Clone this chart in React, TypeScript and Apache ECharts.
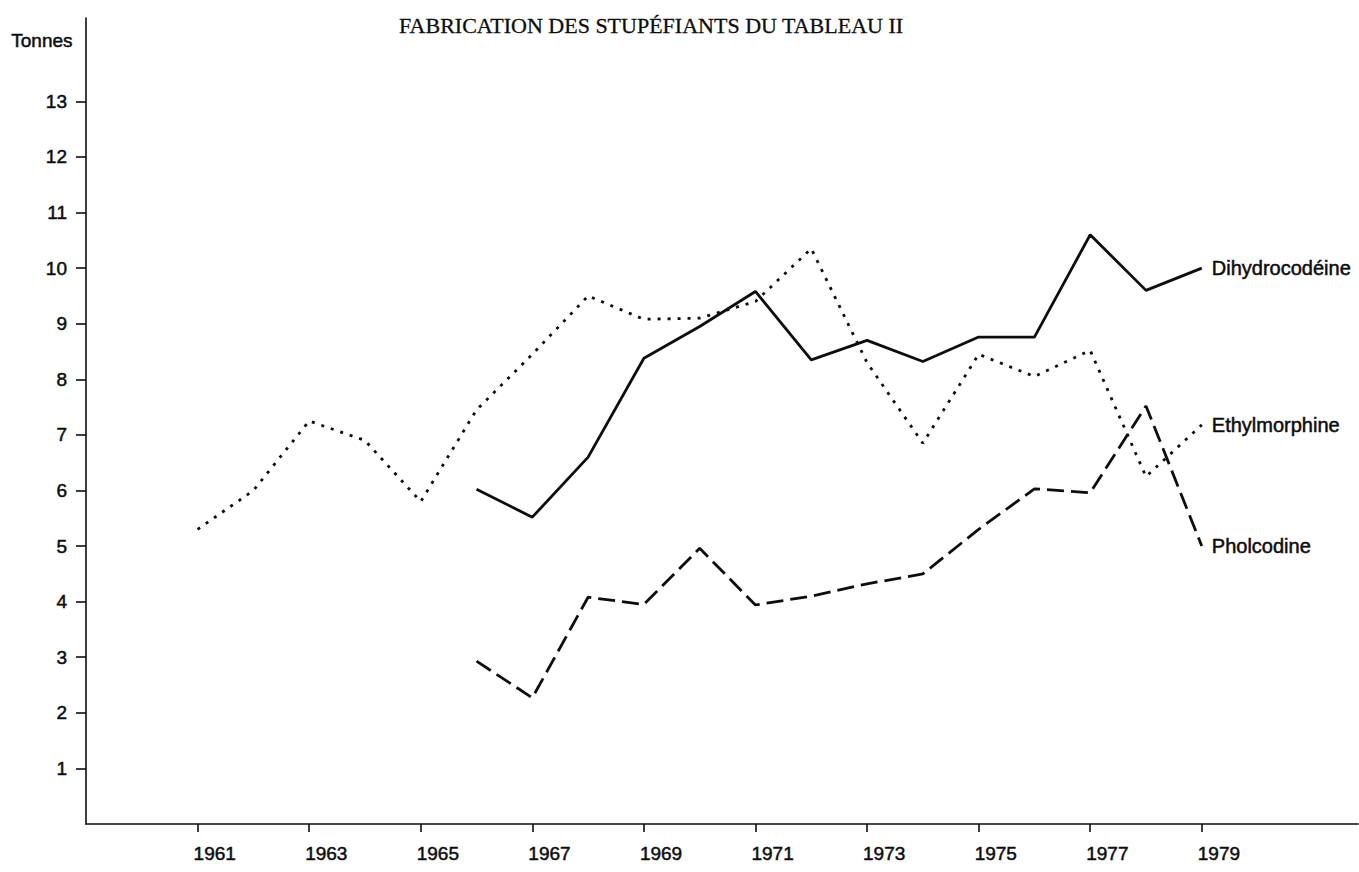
import React, { useEffect, useRef } from "react";
import * as echarts from "echarts";

const titleText = "FABRICATION DES STUPÉFIANTS DU TABLEAU II";
const yUnit = "Tonnes";

const ethylYears = [1961, 1962, 1963, 1964, 1965, 1966, 1967, 1968, 1969, 1970, 1971, 1972, 1973, 1974, 1975, 1976, 1977, 1978, 1979];
const ethylmorphine = [5.3, 6.0, 7.25, 6.9, 5.8, 7.45, 8.45, 9.5, 9.08, 9.1, 9.4, 10.35, 8.3, 6.85, 8.45, 8.05, 8.52, 6.25, 7.18];

const laterYears = [1966, 1967, 1968, 1969, 1970, 1971, 1972, 1973, 1974, 1975, 1976, 1977, 1978, 1979];
const dihydrocodeine = [6.02, 5.52, 6.6, 8.38, 8.95, 9.58, 8.35, 8.7, 8.32, 8.76, 8.76, 10.6, 9.6, 10.0];
const pholcodine = [2.93, 2.27, 4.08, 3.95, 4.96, 3.94, 4.1, 4.32, 4.5, 5.3, 6.03, 5.96, 7.52, 5.0];

const xTickYears = [1961, 1963, 1965, 1967, 1969, 1971, 1973, 1975, 1977, 1979];
const yTicks = [1, 2, 3, 4, 5, 6, 7, 8, 9, 10, 11, 12, 13];

const INK = "#0d0d0d";
const SANS = "Liberation Sans, Arial, sans-serif";
const heavy = { textBorderColor: INK, textBorderWidth: 0.5 };

function pairs(xs: number[], ys: number[]) {
  return xs.map((x, i) => [x, ys[i]]);
}

export default function App() {
  const ref = useRef<HTMLDivElement>(null);
  useEffect(() => {
    if (!ref.current) return;
    const chart = echarts.init(ref.current, null, { renderer: "svg" });
    const endLabel = (name: string) => ({
      show: true,
      formatter: name,
      distance: 10,
      fontSize: 20,
      color: INK,
      fontFamily: SANS,
      ...heavy,
    });
    chart.setOption({
      animation: false,
      backgroundColor: "#fff",
      title: {
        text: titleText,
        left: 394,
        top: 9,
        textStyle: {
          fontFamily: "Liberation Serif, Times New Roman, serif",
          fontSize: 22,
          fontWeight: "normal",
          color: INK,
          textBorderColor: INK,
          textBorderWidth: 0.3,
        },
      },
      graphic: [
        {
          type: "text",
          left: 11,
          top: 31,
          style: { text: yUnit, fontSize: 19, fontFamily: SANS, fill: INK, stroke: INK, lineWidth: 0.5 },
        },
      ],
      grid: { left: 86, right: 1, top: 18, bottom: 48, containLabel: false },
      xAxis: {
        type: "value",
        min: 1959,
        max: 1981.8,
        axisLine: { show: true, lineStyle: { color: INK, width: 1.6 } },
        axisTick: { show: true, customValues: xTickYears, length: 8, lineStyle: { color: INK, width: 1.6 } },
        axisLabel: {
          show: true,
          customValues: xTickYears,
          formatter: (v: number) => String(v),
          align: "left",
          margin: 20,
          padding: [0, 0, 0, -4],
          fontSize: 19,
          fontFamily: SANS,
          color: INK,
          ...heavy,
        },
        splitLine: { show: false },
      },
      yAxis: {
        type: "value",
        min: 0,
        max: 14.5,
        axisLine: { show: true, lineStyle: { color: INK, width: 1.6 } },
        axisTick: { show: true, customValues: yTicks, length: 10, lineStyle: { color: INK, width: 1.6 } },
        axisLabel: {
          show: true,
          customValues: yTicks,
          margin: 19,
          fontSize: 19,
          fontFamily: SANS,
          color: INK,
          ...heavy,
        },
        splitLine: { show: false },
      },
      series: [
        {
          name: "Dihydrocodéine",
          type: "line",
          data: pairs(laterYears, dihydrocodeine),
          showSymbol: false,
          symbol: "none",
          lineStyle: { color: INK, width: 2.8, type: "solid" },
          endLabel: endLabel("Dihydrocodéine"),
        },
        {
          name: "Ethylmorphine",
          type: "line",
          data: pairs(ethylYears, ethylmorphine),
          showSymbol: false,
          symbol: "none",
          lineStyle: { color: INK, width: 2.8, type: [3, 7], cap: "butt" },
          endLabel: endLabel("Ethylmorphine"),
        },
        {
          name: "Pholcodine",
          type: "line",
          data: pairs(laterYears, pholcodine),
          showSymbol: false,
          symbol: "none",
          lineStyle: { color: INK, width: 2.8, type: [17, 7], cap: "butt" },
          endLabel: endLabel("Pholcodine"),
        },
      ],
    });
    return () => chart.dispose();
  }, []);
  return (
    <div
      ref={ref}
      style={{ position: "fixed", left: 0, top: 0, width: 1359, height: 872, background: "#fff" }}
    />
  );
}
